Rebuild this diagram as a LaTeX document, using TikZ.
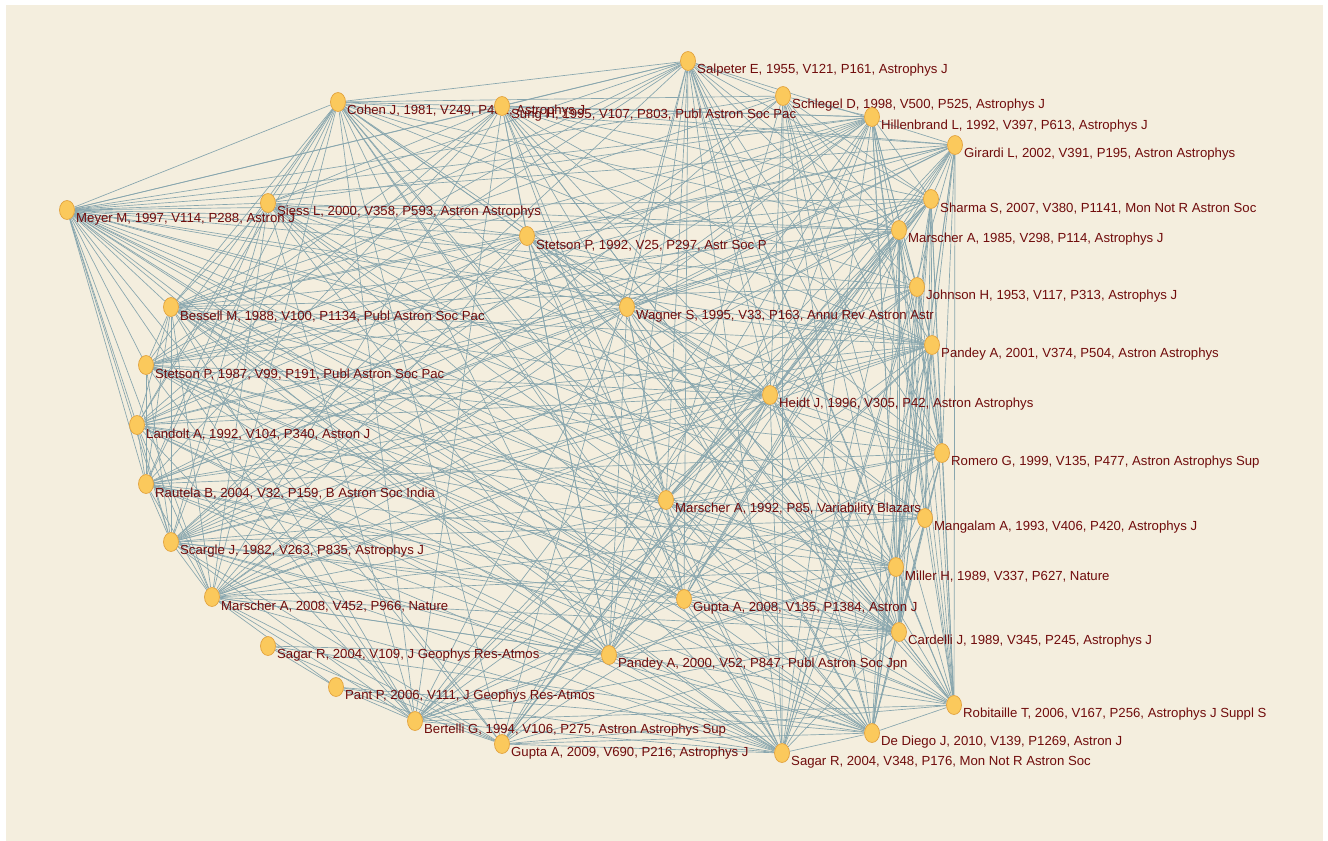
\documentclass[tikz,border=0pt]{standalone}
\usepackage{fontspec}
\newfontfamily\labfont{Liberation Sans}
\usetikzlibrary{shapes.geometric}
\definecolor{paper}{RGB}{244,238,222}
\definecolor{linkc}{RGB}{136,166,174}
\definecolor{dotfill}{RGB}{251,201,92}
\definecolor{dotdraw}{RGB}{226,162,62}
\definecolor{labc}{RGB}{112,12,12}
\pgfdeclarelayer{links}
\pgfsetlayers{links,main}
\newcommand{\citelist}{salp,schl,cohen,sung,hill,gir,meyer,siess,sharma,stetA,marA,john,bess,wag,pandA,stetB,heidt,land,rom,raut,marB,mang,scar,mill,marC,gupA,card,pandB,robi,bert,dieg,gupB,sagB}
\begin{document}
\begin{tikzpicture}[x=0.02cm, y=-0.02cm,
  cite/.style={draw=dotdraw, fill=dotfill, ellipse, inner sep=0pt, minimum width=0.3cm, minimum height=0.38cm, line width=0.4pt},
  lab/.style={text=labc, font=\labfont\fontsize{7.5}{9}\selectfont, inner sep=0pt, anchor=west, xshift=0.02cm, yshift=-0.19cm},
  link/.style={draw=linkc, line width=0.38pt}]

\useasboundingbox (0,0) rectangle (1328,841);

% cited papers
\node[cite, label={[lab]0:{Salpeter E, 1955, V121, P161, Astrophys J}}] (salp) at (688,61) {};
\node[cite, label={[lab]0:{Schlegel D, 1998, V500, P525, Astrophys J}}] (schl) at (783,96) {};
\node[cite, label={[lab]0:{Cohen J, 1981, V249, P481, Astrophys J}}] (cohen) at (338,102) {};
\node[cite, label={[lab]0:{Sung H, 1995, V107, P803, Publ Astron Soc Pac}}] (sung) at (502,106) {};
\node[cite, label={[lab]0:{Hillenbrand L, 1992, V397, P613, Astrophys J}}] (hill) at (872,117) {};
\node[cite, label={[lab]0:{Girardi L, 2002, V391, P195, Astron Astrophys}}] (gir) at (955,145) {};
\node[cite, label={[lab]0:{Meyer M, 1997, V114, P288, Astron J}}] (meyer) at (67,210) {};
\node[cite, label={[lab]0:{Siess L, 2000, V358, P593, Astron Astrophys}}] (siess) at (268,203) {};
\node[cite, label={[lab]0:{Sharma S, 2007, V380, P1141, Mon Not R Astron Soc}}] (sharma) at (931,199) {};
\node[cite, label={[lab]0:{Stetson P, 1992, V25, P297, Astr Soc P}}] (stetA) at (527,236) {};
\node[cite, label={[lab]0:{Marscher A, 1985, V298, P114, Astrophys J}}] (marA) at (899,230) {};
\node[cite, label={[lab]0:{Johnson H, 1953, V117, P313, Astrophys J}}] (john) at (917,287) {};
\node[cite, label={[lab]0:{Bessell M, 1988, V100, P1134, Publ Astron Soc Pac}}] (bess) at (171,307) {};
\node[cite, label={[lab]0:{Wagner S, 1995, V33, P163, Annu Rev Astron Astr}}] (wag) at (627,307) {};
\node[cite, label={[lab]0:{Pandey A, 2001, V374, P504, Astron Astrophys}}] (pandA) at (932,345) {};
\node[cite, label={[lab]0:{Stetson P, 1987, V99, P191, Publ Astron Soc Pac}}] (stetB) at (146,365) {};
\node[cite, label={[lab]0:{Heidt J, 1996, V305, P42, Astron Astrophys}}] (heidt) at (770,395) {};
\node[cite, label={[lab]0:{Landolt A, 1992, V104, P340, Astron J}}] (land) at (137,425) {};
\node[cite, label={[lab]0:{Romero G, 1999, V135, P477, Astron Astrophys Sup}}] (rom) at (942,453) {};
\node[cite, label={[lab]0:{Rautela B, 2004, V32, P159, B Astron Soc India}}] (raut) at (146,484) {};
\node[cite, label={[lab]0:{Marscher A, 1992, P85, Variability Blazars}}] (marB) at (666,500) {};
\node[cite, label={[lab]0:{Mangalam A, 1993, V406, P420, Astrophys J}}] (mang) at (925,518) {};
\node[cite, label={[lab]0:{Scargle J, 1982, V263, P835, Astrophys J}}] (scar) at (171,542) {};
\node[cite, label={[lab]0:{Miller H, 1989, V337, P627, Nature}}] (mill) at (896,567) {};
\node[cite, label={[lab]0:{Marscher A, 2008, V452, P966, Nature}}] (marC) at (212,597) {};
\node[cite, label={[lab]0:{Gupta A, 2008, V135, P1384, Astron J}}] (gupA) at (684,599) {};
\node[cite, label={[lab]0:{Cardelli J, 1989, V345, P245, Astrophys J}}] (card) at (899,632) {};
\node[cite, label={[lab]0:{Sagar R, 2004, V109, J Geophys Res-Atmos}}] (sagA) at (268,646) {};
\node[cite, label={[lab]0:{Pandey A, 2000, V52, P847, Publ Astron Soc Jpn}}] (pandB) at (609,655) {};
\node[cite, label={[lab]0:{Pant P, 2006, V111, J Geophys Res-Atmos}}] (pant) at (336,687) {};
\node[cite, label={[lab]0:{Robitaille T, 2006, V167, P256, Astrophys J Suppl S}}] (robi) at (954,705) {};
\node[cite, label={[lab]0:{Bertelli G, 1994, V106, P275, Astron Astrophys Sup}}] (bert) at (415,721) {};
\node[cite, label={[lab]0:{De Diego J, 2010, V139, P1269, Astron J}}] (dieg) at (872,733) {};
\node[cite, label={[lab]0:{Gupta A, 2009, V690, P216, Astrophys J}}] (gupB) at (502,744) {};
\node[cite, label={[lab]0:{Sagar R, 2004, V348, P176, Mon Not R Astron Soc}}] (sagB) at (782,753) {};

% co-citation links
\begin{pgfonlayer}{links}
\fill[white] (0,0) rectangle (1328,841);
\fill[paper] (6,5) rectangle (1323,841);
\foreach \a [count=\i] in \citelist {
  \foreach \b [count=\j] in \citelist {
    \pgfmathtruncatemacro\keep{mod(\i*\j*7+\i+\j,10)}
    \ifnum\j>\i \ifnum\keep>2 \draw[link] (\a) -- (\b); \fi\fi
  }
}
\foreach \a/\b in {sagA/pant, sagA/gupB, sagA/dieg, sagA/pandB, pant/bert, pant/gupB, pant/sagB, pant/dieg, pant/marC}
  \draw[link] (\a) -- (\b);
\end{pgfonlayer}

\end{tikzpicture}
\end{document}
